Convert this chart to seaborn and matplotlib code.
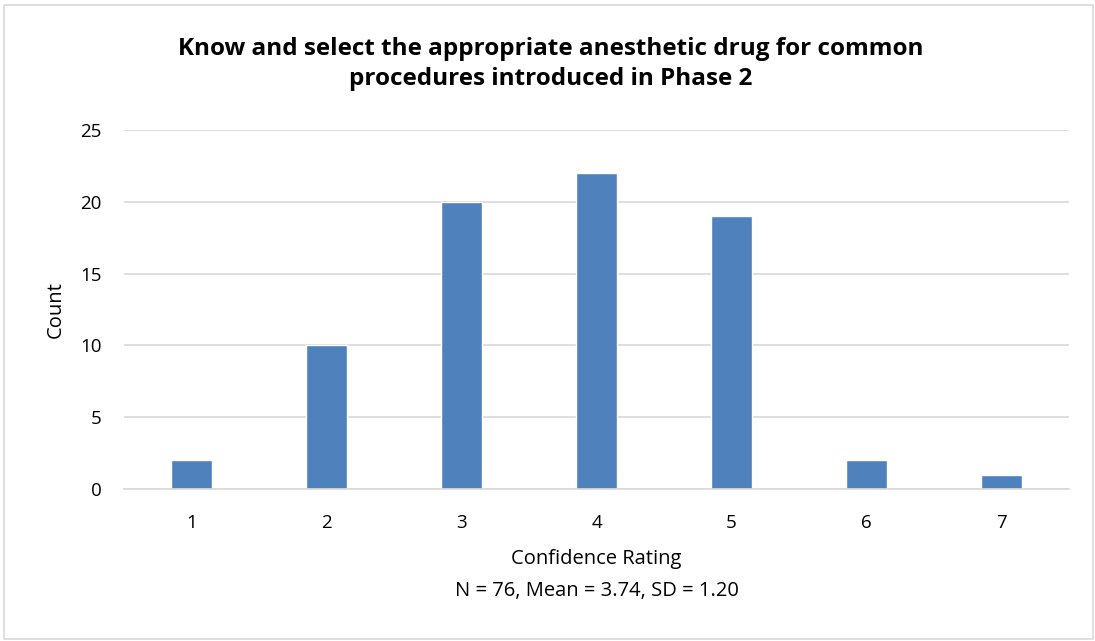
import numpy as np
import pandas as pd
import matplotlib
matplotlib.use('Agg')
import matplotlib.pyplot as plt
import seaborn as sns
from matplotlib.patches import Rectangle

ratings = ['1', '2', '3', '4', '5', '6', '7']
counts = [2, 10, 20, 22, 19, 2, 1]
title = 'Know and select the appropriate anesthetic drug for common\nprocedures introduced in Phase 2'
stats_line = 'N = 76, Mean = 3.74, SD = 1.20'

df = pd.DataFrame({'rating': ratings, 'count': counts})

sns.set_style('white')
plt.rcParams['font.family'] = ['Open Sans', 'DejaVu Sans']
plt.rcParams['text.color'] = 'black'
plt.rcParams['axes.labelcolor'] = 'black'
plt.rcParams['xtick.color'] = 'black'
plt.rcParams['ytick.color'] = 'black'

fig = plt.figure(figsize=(10.95, 6.41), dpi=100)
# light frame around the chart
fig.patches.append(Rectangle((4 / 1095, 2 / 641), 1089 / 1095, 634 / 641,
                             transform=fig.transFigure, fill=False,
                             edgecolor='#d9d9d9', linewidth=1.2))

ax = fig.add_axes([124 / 1095, 1 - 489 / 641, 945 / 1095, 359 / 641])
sns.barplot(data=df, x='rating', y='count', color='#4F81BD', width=0.31,
            saturation=1, ax=ax)

ax.set_ylim(0, 25)
ax.set_yticks(range(0, 26, 5))
ax.yaxis.grid(True, color='#d9d9d9', linewidth=1.2)
ax.set_axisbelow(True)
for side in ['top', 'right', 'left']:
    ax.spines[side].set_visible(False)
ax.spines['bottom'].set_color('#d9d9d9')
ax.spines['bottom'].set_linewidth(1.2)
ax.tick_params(axis='both', length=0, labelsize=13.5)
ax.tick_params(axis='x', pad=18)
ax.tick_params(axis='y', pad=16)

ax.set_xlabel('Confidence Rating', fontsize=14.5, labelpad=12)
ax.set_ylabel('Count', fontsize=14.5)
ax.yaxis.set_label_coords(-0.062, 0.5)

fig.text(551 / 1095, 1 - 64 / 641, title, ha='center', va='center',
         fontsize=17.5, fontweight='bold', linespacing=1.3)
fig.text(597 / 1095, 1 - 591 / 641, stats_line, ha='center', va='center',
         fontsize=14.5)

fig.savefig('out.png', dpi=100)
